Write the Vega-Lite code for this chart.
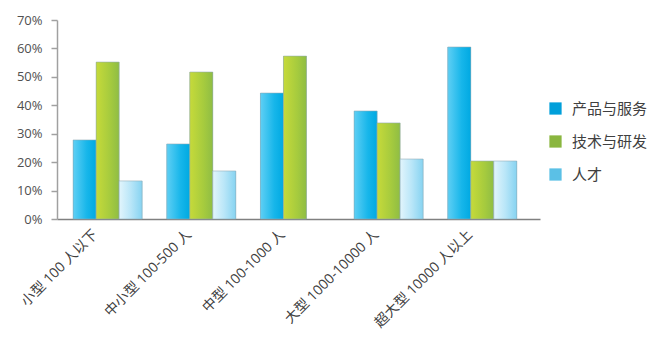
{
  "$schema": "https://vega.github.io/schema/vega-lite/v6.json",
  "width": 483,
  "height": 199,
  "autosize": {"type": "none"},
  "padding": {"left": 57, "top": 20, "right": 111, "bottom": 119},
  "background": "white",
  "config": {
    "view": {"stroke": null},
    "font": "Open Sans, Noto Sans CJK SC"
  },
  "data": {
    "values": [
      {"size": "小型 100 人以下", "series": "产品与服务", "value": 0.278},
      {"size": "小型 100 人以下", "series": "技术与研发", "value": 0.552},
      {"size": "小型 100 人以下", "series": "人才", "value": 0.134},
      {"size": "中小型 100-500 人", "series": "产品与服务", "value": 0.264},
      {"size": "中小型 100-500 人", "series": "技术与研发", "value": 0.517},
      {"size": "中小型 100-500 人", "series": "人才", "value": 0.169},
      {"size": "中型 100-1000 人", "series": "产品与服务", "value": 0.443},
      {"size": "中型 100-1000 人", "series": "技术与研发", "value": 0.573},
      {"size": "大型 1000-10000 人", "series": "产品与服务", "value": 0.380},
      {"size": "大型 1000-10000 人", "series": "技术与研发", "value": 0.338},
      {"size": "大型 1000-10000 人", "series": "人才", "value": 0.211},
      {"size": "超大型 10000 人以上", "series": "产品与服务", "value": 0.605},
      {"size": "超大型 10000 人以上", "series": "技术与研发", "value": 0.204},
      {"size": "超大型 10000 人以上", "series": "人才", "value": 0.204}
    ]
  },
  "encoding": {
    "x": {
      "field": "size",
      "type": "nominal",
      "sort": null,
      "scale": {"paddingInner": 0.263, "paddingOuter": 0.21, "align": 0.41},
      "axis": {
        "title": null,
        "labelAngle": -45,
        "labelFontSize": 14,
        "labelColor": "#404040",
        "labelOffset": -17,
        "ticks": false,
        "domainColor": "#808080",
        "domainWidth": 1.5,
        "labelPadding": 8
      }
    },
    "xOffset": {
      "field": "series",
      "type": "nominal",
      "sort": ["产品与服务", "技术与研发", "人才"],
      "scale": {"domain": ["产品与服务", "技术与研发", "人才"], "paddingInner": 0, "paddingOuter": 0}
    },
    "y": {
      "field": "value",
      "type": "quantitative",
      "scale": {"domain": [0, 0.7], "nice": false},
      "axis": {
        "title": null,
        "format": ".0%",
        "values": [0, 0.1, 0.2, 0.3, 0.4, 0.5, 0.6, 0.7],
        "grid": false,
        "labelFontSize": 13,
        "labelColor": "#505050",
        "tickColor": "#a0a0a0",
        "tickSize": 6,
        "tickWidth": 1.5,
        "domainColor": "#a0a0a0",
        "domainWidth": 1.5,
        "labelPadding": 9
      }
    }
  },
  "layer": [
    {
      "mark": {"type": "bar"},
      "encoding": {
        "color": {
          "field": "series",
          "type": "nominal",
          "scale": {"domain": ["产品与服务", "技术与研发", "人才"], "range": ["#009fda", "#8ab63f", "#5bc0e6"]},
          "legend": {
            "title": null,
            "orient": "none",
            "legendX": 491,
            "legendY": 81,
            "symbolType": "square",
            "symbolSize": 150,
            "symbolStrokeWidth": 0,
            "labelFontSize": 15,
            "labelColor": "#404040",
            "labelOffset": 9,
            "rowPadding": 17
          }
        }
      }
    },
    {
      "mark": {"type": "bar", "stroke": "#8fa8b4", "strokeWidth": 0.8, "strokeOpacity": 0.7},
      "encoding": {
        "fill": {
          "condition": [
            {"test": "datum.series === '产品与服务'", "value": {"gradient": "linear", "x1": 0, "y1": 0, "x2": 1, "y2": 0, "stops": [{"offset": 0, "color": "#5fcff4"}, {"offset": 0.6, "color": "#17b6ea"}, {"offset": 1, "color": "#00a9e2"}]}},
            {"test": "datum.series === '技术与研发'", "value": {"gradient": "linear", "x1": 0, "y1": 0, "x2": 1, "y2": 0, "stops": [{"offset": 0, "color": "#c6da3a"}, {"offset": 0.6, "color": "#a6cb3e"}, {"offset": 1, "color": "#8fbd44"}]}}
          ],
          "value": {"gradient": "linear", "x1": 0, "y1": 0, "x2": 1, "y2": 0, "stops": [{"offset": 0, "color": "#e2f5fc"}, {"offset": 0.5, "color": "#b9e6f8"}, {"offset": 1, "color": "#86d3f1"}]}
        }
      }
    }
  ]
}
